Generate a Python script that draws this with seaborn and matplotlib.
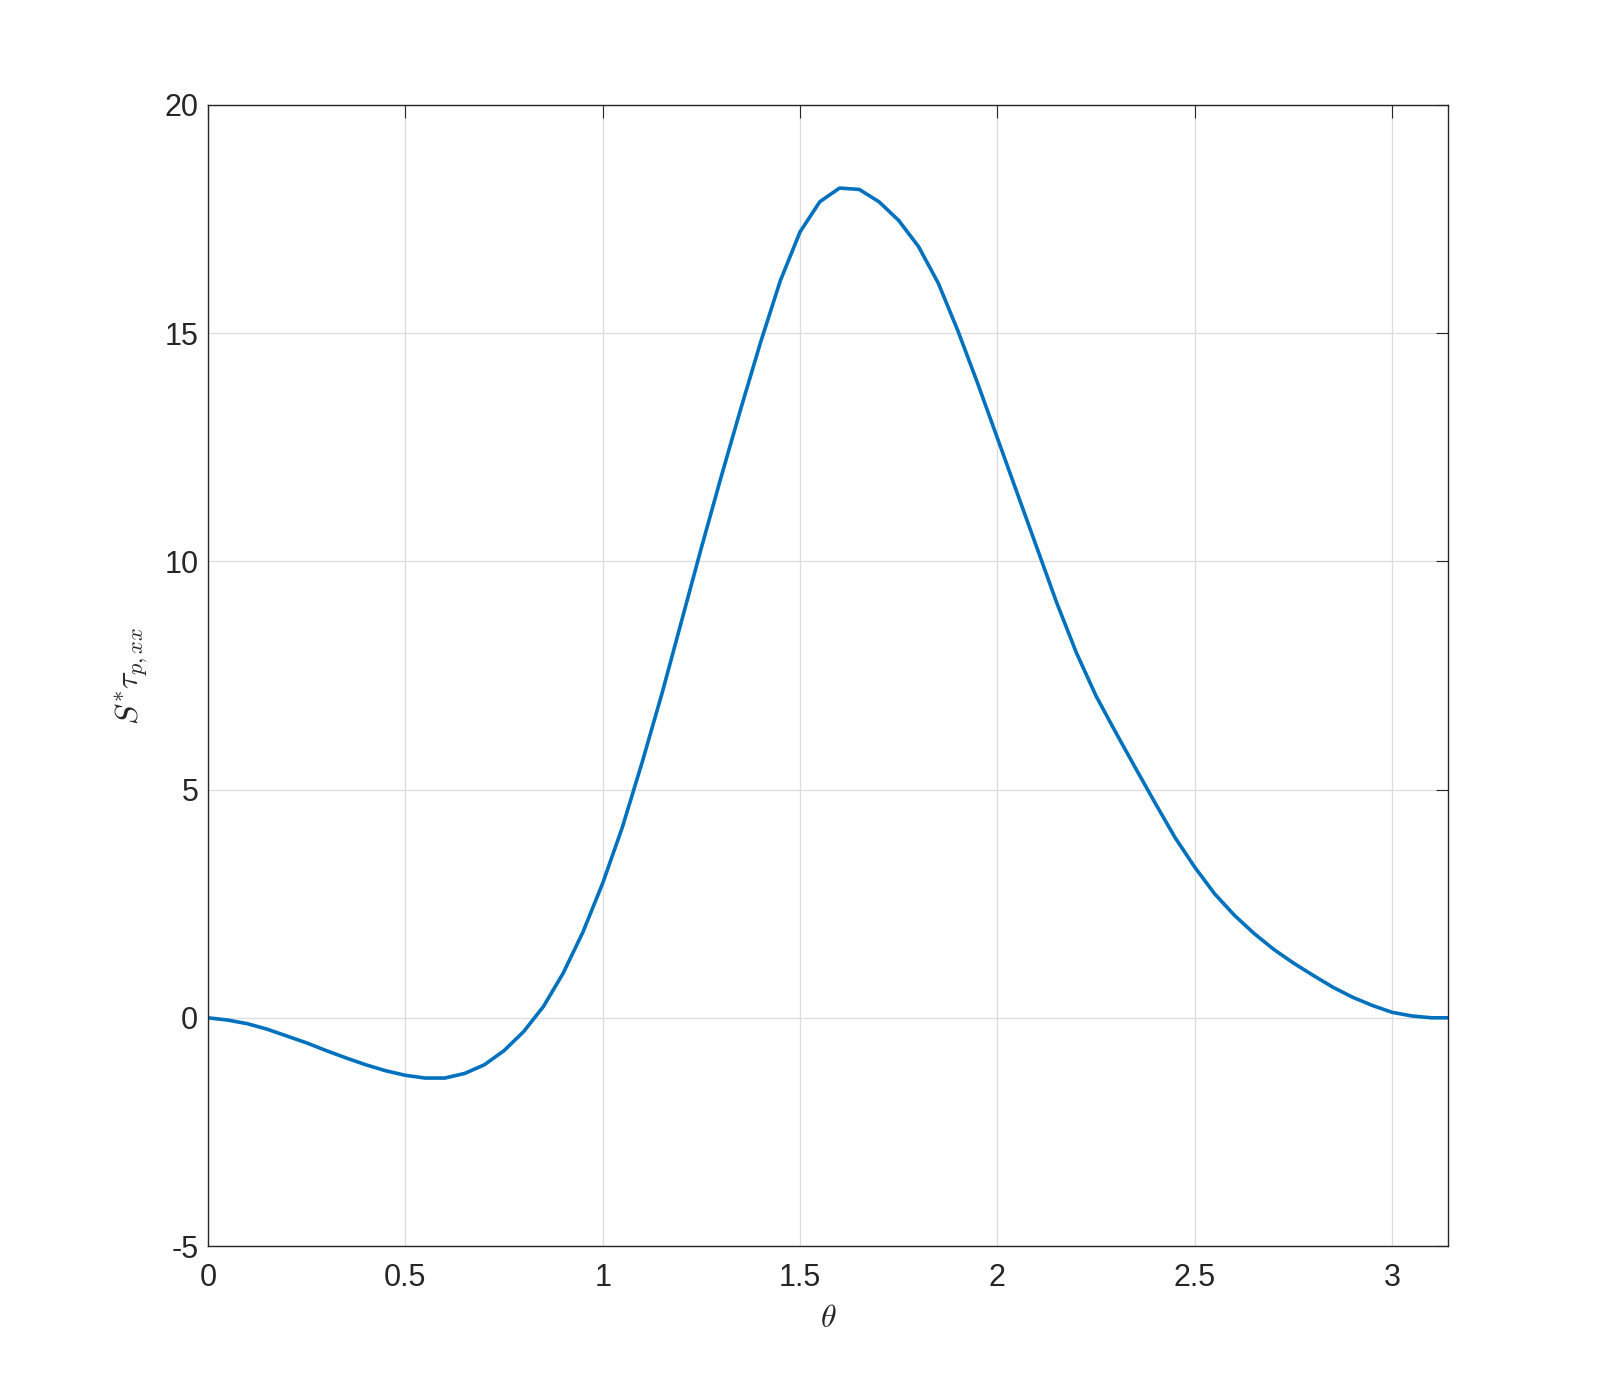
import numpy as np
import pandas as pd
import seaborn as sns
import matplotlib
matplotlib.use('Agg')
import matplotlib.pyplot as plt

# valores (theta cada 0.05, ultimo punto en pi)
theta = [0.00, 0.05, 0.10, 0.15, 0.20, 0.25, 0.30, 0.35, 0.40, 0.45,
         0.50, 0.55, 0.60, 0.65, 0.70, 0.75, 0.80, 0.85, 0.90, 0.95,
         1.00, 1.05, 1.10, 1.15, 1.20, 1.25, 1.30, 1.35, 1.40, 1.45,
         1.50, 1.55, 1.60, 1.65, 1.70, 1.75, 1.80, 1.85, 1.90, 1.95,
         2.00, 2.05, 2.10, 2.15, 2.20, 2.25, 2.30, 2.35, 2.40, 2.45,
         2.50, 2.55, 2.60, 2.65, 2.70, 2.75, 2.80, 2.85, 2.90, 2.95,
         3.00, 3.05, 3.10, np.pi]
tau = [0.00, -0.05, -0.13, -0.25, -0.40, -0.55, -0.72, -0.88, -1.03, -1.16,
       -1.26, -1.32, -1.32, -1.22, -1.03, -0.72, -0.30, 0.25, 0.98, 1.88,
       2.95, 4.18, 5.60, 7.10, 8.70, 10.30, 11.85, 13.35, 14.80, 16.15,
       17.22, 17.88, 18.18, 18.15, 17.88, 17.47, 16.90, 16.10, 15.05, 13.90,
       12.70, 11.50, 10.30, 9.10, 8.00, 7.05, 6.25, 5.47, 4.70, 3.95,
       3.30, 2.72, 2.25, 1.85, 1.50, 1.20, 0.93, 0.67, 0.45, 0.27,
       0.12, 0.04, 0.00, 0.00]

df = pd.DataFrame({'theta': theta, 'tau': tau})

sns.set_style('whitegrid')
plt.rcParams['font.family'] = ['Liberation Sans', 'DejaVu Sans']
plt.rcParams['mathtext.fontset'] = 'cm'
plt.rcParams['axes.unicode_minus'] = False

fig = plt.figure(figsize=(16, 14), dpi=100)
ax = fig.add_axes([0.13, 0.11, 0.775, 0.815])

sns.lineplot(x='theta', y='tau', data=df, ax=ax, color='#0072BD', linewidth=2.6)

ax.set_xlim(0, np.pi)
ax.set_ylim(-5, 20)
ax.set_xticks([0, 0.5, 1, 1.5, 2, 2.5, 3])
ax.set_xticklabels(['0', '0.5', '1', '1.5', '2', '2.5', '3'])
ax.set_yticks([-5, 0, 5, 10, 15, 20])
ax.grid(True, color='#dcdcdc', linewidth=0.9)
for s in ax.spines.values():
    s.set_color('#262626')
    s.set_linewidth(1.0)
ax.tick_params(direction='in', length=9, width=0.8, color='#262626',
               labelsize=22, labelcolor='#262626', top=True, right=True)
ax.tick_params(axis='x', pad=12)
ax.tick_params(axis='y', pad=7)
ax.set_xlabel(r'$\theta$', fontsize=23, labelpad=8)
ax.set_ylabel(r'$S^{*}\tau_{p,xx}$', fontsize=23, labelpad=10)

fig.savefig('out.png', dpi=100)
